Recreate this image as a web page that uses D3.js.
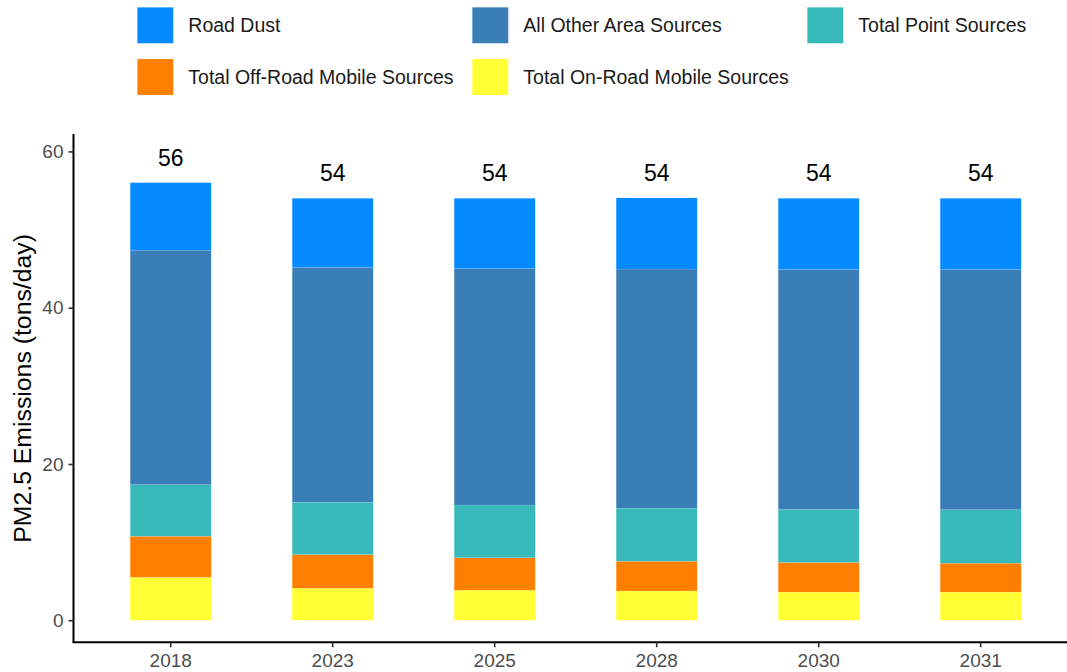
<!DOCTYPE html>
<html>
<head>
<meta charset="utf-8">
<script src="https://cdn.jsdelivr.net/npm/d3@7"></script>
<style>
  html, body { margin: 0; padding: 0; background: #ffffff; }
  svg { display: block; font-family: "Liberation Sans", Arial, sans-serif; }
</style>
</head>
<body>
<svg id="chart" width="1067" height="672"></svg>
<script>
// ---- data ----
const years = ["2018", "2023", "2025", "2028", "2030", "2031"];
const onRoad  = [5.5, 4.1, 3.85, 3.75, 3.6, 3.6];
const offRoad = [5.25, 4.3, 4.15, 3.8, 3.8, 3.7];
const point   = [6.6, 6.7, 6.75, 6.8, 6.8, 6.85];
const area    = [30.0, 30.05, 30.25, 30.6, 30.7, 30.75];
const roadDust = [8.65, 8.85, 9.0, 9.1, 9.1, 9.1];
const totalLabels = ["56", "54", "54", "54", "54", "54"];
const yTicks = [0, 20, 40, 60];

const seriesNames = ["Total On-Road Mobile Sources", "Total Off-Road Mobile Sources",
                     "Total Point Sources", "All Other Area Sources", "Road Dust"];
const seriesValues = [onRoad, offRoad, point, area, roadDust];
const seriesColors = ["#FFFF33", "#FF7F00", "#38B9BA", "#3A7EB8", "#038BFF"];
const legendOrder = ["Road Dust", "All Other Area Sources", "Total Point Sources",
                     "Total Off-Road Mobile Sources", "Total On-Road Mobile Sources"];

// ---- build table ----
const table = years.map((y, i) => {
  const row = { year: y };
  seriesNames.forEach((s, k) => row[s] = seriesValues[k][i]);
  row.total = seriesNames.reduce((a, s) => a + row[s], 0);
  row.label = totalLabels[i];
  return row;
});
const colorOf = d3.scaleOrdinal().domain(seriesNames).range(seriesColors);

const svg = d3.select("#chart");

// ---- scales ----
const x = d3.scaleBand().domain(years).range([73.5, 1077.9])
  .paddingInner(0.5).paddingOuter(0.35);
const y = d3.scaleLinear().domain([-2.82, 62.23]).range([642.3, 134]);

// ---- bars ----
const stacked = d3.stack().keys(seriesNames)(table);
svg.append("g").selectAll("g").data(stacked).join("g")
  .attr("fill", d => colorOf(d.key))
  .selectAll("rect").data(d => d).join("rect")
  .attr("x", d => x(d.data.year))
  .attr("width", x.bandwidth())
  .attr("y", d => y(d[1]))
  .attr("height", d => y(d[0]) - y(d[1]))
  .attr("stroke", "rgba(255,255,255,0.2)")
  .attr("stroke-width", 0.5);

// ---- total labels ----
svg.append("g").selectAll("text").data(table).join("text")
  .attr("x", d => x(d.year) + x.bandwidth() / 2)
  .attr("y", d => y(d.total) - 17)
  .attr("text-anchor", "middle")
  .attr("font-size", 23)
  .attr("fill", "#000")
  .text(d => d.label);

// ---- axes ----
const yAxis = svg.append("g").attr("transform", "translate(73.5,0)")
  .call(d3.axisLeft(y).tickValues(yTicks).tickSize(5).tickPadding(5));
const xAxis = svg.append("g").attr("transform", "translate(0,642.3)")
  .call(d3.axisBottom(x).tickSize(5).tickPadding(6));

[yAxis, xAxis].forEach(g => {
  g.select(".domain").attr("stroke", "#000").attr("stroke-width", 2);
  g.selectAll(".tick line").attr("stroke", "#333").attr("stroke-width", 1.6);
  g.selectAll(".tick text").attr("fill", "#4d4d4d").attr("font-size", 19)
    .attr("font-family", "Liberation Sans, Arial, sans-serif");
});
yAxis.select(".domain").attr("d", `M0,${642.3}V134`);
xAxis.select(".domain").attr("d", `M72.5,0H1067`);

// ---- y title ----
svg.append("text")
  .attr("transform", `translate(30.5,388.4) rotate(-90)`)
  .attr("text-anchor", "middle")
  .attr("font-size", 24.8)
  .attr("fill", "#000")
  .text("PM2.5 Emissions (tons/day)");

// ---- legend ----
const legendCols = [137.3, 472.3, 807.3];
const legendRows = [7.3, 59];
const leg = svg.append("g").selectAll("g").data(legendOrder).join("g")
  .attr("transform", (d, i) => `translate(${legendCols[i % 3]},${legendRows[Math.floor(i / 3)]})`);
leg.append("rect")
  .attr("width", 36).attr("height", 36)
  .attr("fill", d => colorOf(d))
  .attr("stroke", "rgba(255,255,255,0.2)").attr("stroke-width", 0.5);
leg.append("text")
  .attr("x", 51).attr("y", 25)
  .attr("font-size", 19.5)
  .attr("fill", "#1a1a1a")
  .text(d => d);
</script>
</body>
</html>
